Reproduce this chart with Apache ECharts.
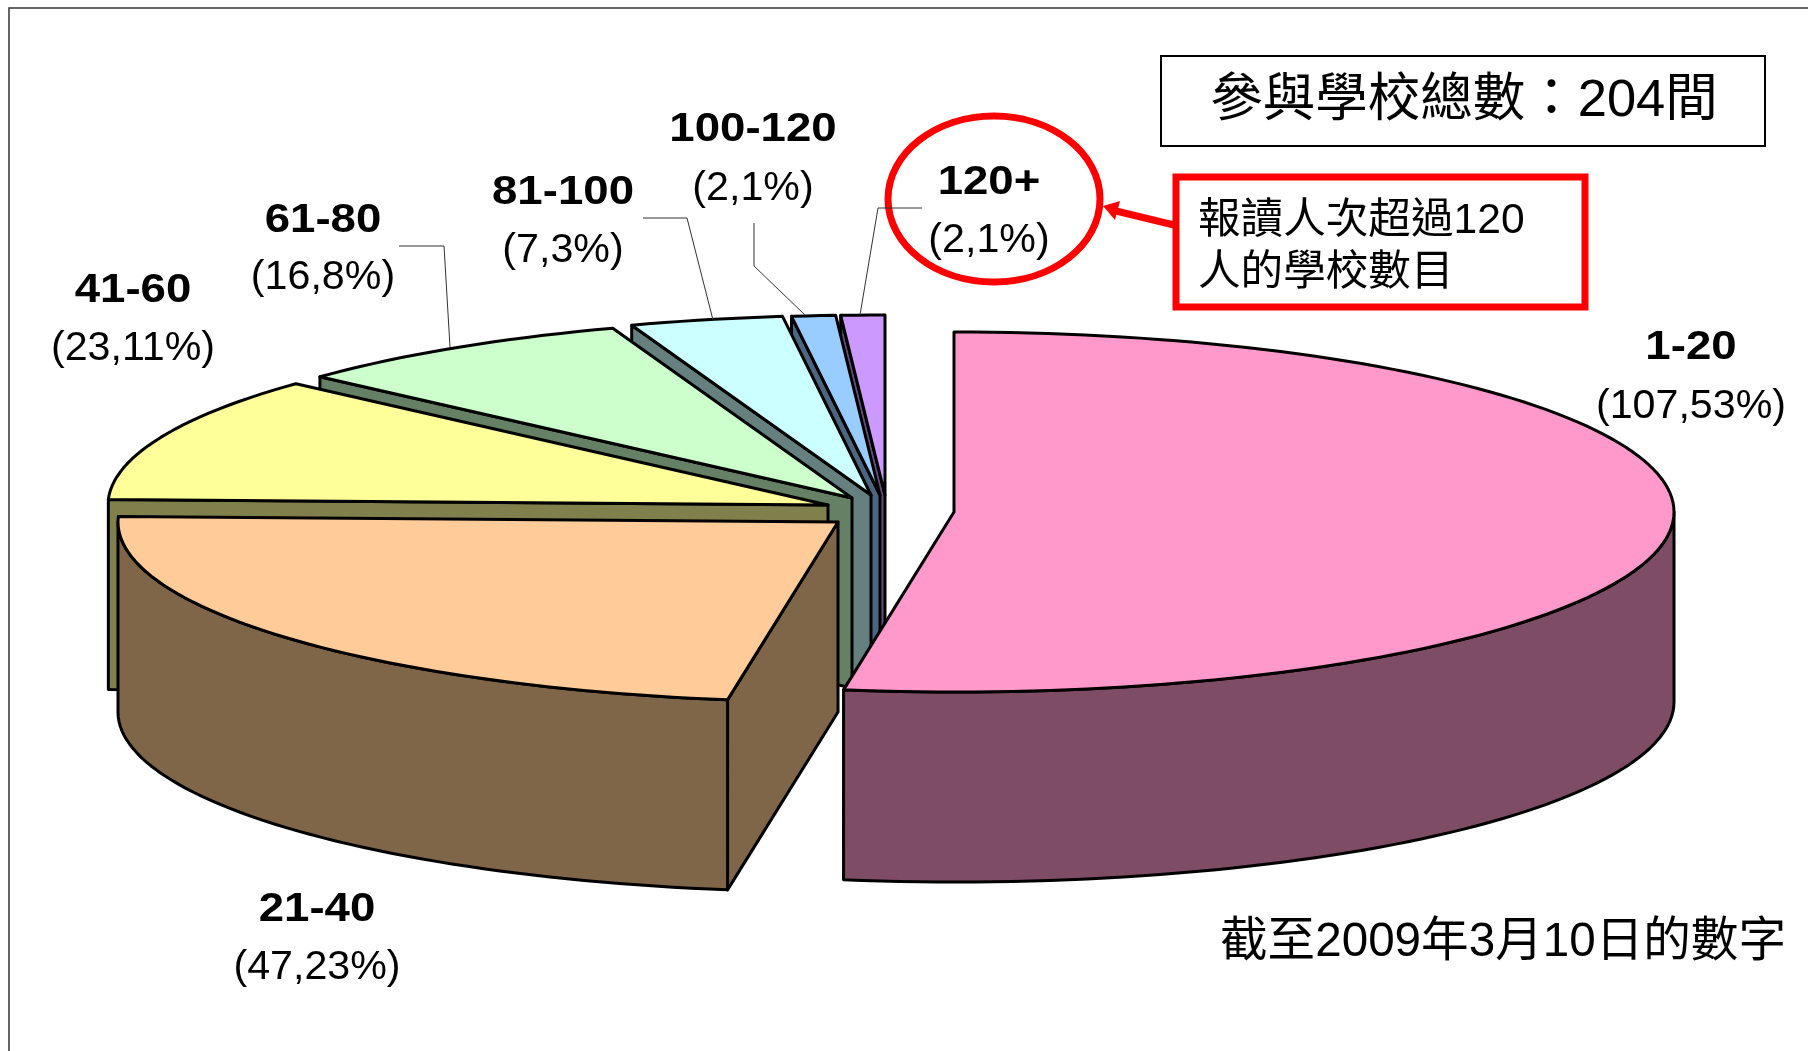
<!DOCTYPE html>
<html>
<head>
<meta charset="utf-8">
<style>
html,body{margin:0;padding:0;background:#fff;}
#chart{width:1808px;height:1051px;}
</style>
<script src="https://cdn.jsdelivr.net/npm/echarts@6/dist/echarts.min.js"></script>
</head>
<body>
<div id="chart"></div>
<script>
// data
var categories = ['1-20','21-40','41-60','61-80','81-100','100-120','120+'];
var schools = [107,47,23,16,7,2,2];
var percents = [53,23,11,8,3,1,1];

var topColors = ['#FF99CC','#FFCC99','#FFFF99','#CCFFCC','#CCFFFF','#99CCFF','#CC99FF'];
var wallColors = ['#7F4C66','#7F6649','#80804C','#668066','#668080','#4C6680','#664C80'];

// the pie: each slice is pulled out to its own apex
var rx = 720, ry = 180, depth = 190;
var apexes = [[954,512],[838,522],[828,505],[852,498],[871,495],[880,495],[885,495]];
var labelPos = [[1691,348,407],[317,910,968],[133,291,349],[323,221,278],[563,193,251],[753,130,189],[989,183,241]];

var total = schools.reduce(function(a,b){return a+b},0);

function rimPoint(apex,deg){
    var r = deg*Math.PI/180;
    return [apex[0]+rx*Math.sin(r), apex[1]-ry*Math.cos(r)];
}
function arc(apex,from,to){
    var pts = [], n = Math.max(2,Math.ceil((to-from)/1.5));
    for(var k=0;k<=n;k++){
        pts.push(rimPoint(apex,from+(to-from)*k/n));
    }
    return pts;
}
function drop(pts){
    return pts.map(function(p){return [p[0],p[1]+depth]}).reverse();
}
function poly(points,fill){
    return {type:'polygon',shape:{points:points},
        style:{fill:fill,stroke:'#000',lineWidth:3,lineJoin:'round'}};
}
function sideFace(apex,deg,fill){
    var top = [rimPoint(apex,deg),apex];
    return poly(top.concat(drop(top)),fill);
}

function renderSlice(params,api){
    var i = api.value(0);
    var before = 0;
    for(var k=0;k<i;k++) before += schools[k];
    var from = before/total*360;
    var to = (before+api.value(1))/total*360;
    var apex = apexes[i];
    var children = [];
    // cut faces turned to the viewer
    if(Math.sin(from*Math.PI/180)<-0.001) children.push(sideFace(apex,from,wallColors[i]));
    if(Math.sin(to*Math.PI/180)>0.001) children.push(sideFace(apex,to,wallColors[i]));
    // outer wall, only the front half of the rim
    var a = Math.max(from,90), b = Math.min(to,270);
    if(b>a){
        var rim = arc(apex,a,b);
        children.push(poly(rim.concat(drop(rim)),wallColors[i]));
    }
    children.push(poly([apex].concat(arc(apex,from,to)),topColors[i]));
    return {type:'group',children:children};
}

var sansFont = '"Liberation Sans","Noto Sans CJK TC",sans-serif';

function label(x,y,text,size,opt){
    opt = opt || {};
    return {type:'text',x:x,y:y,scaleX:opt.scaleX||1,z:20,
        style:{text:text,fill:'#000',textAlign:opt.align||'center',textVerticalAlign:'middle',
            font:(opt.bold?'bold ':'')+size+'px '+sansFont}};
}
function leader(points){
    return {type:'polyline',z:20,shape:{points:points},style:{fill:null,stroke:'#333',lineWidth:1}};
}

var graphics = [
    // frame of the slide
    {type:'polyline',shape:{points:[[9,1051],[9,8],[1808,8]]},style:{fill:null,stroke:'#333',lineWidth:1.5}},
    leader([[399,246],[444,246],[450,347]]),
    leader([[643,218],[687,218],[713,320]]),
    leader([[754,223],[754,266],[805,315]]),
    leader([[922,208],[878,208],[860,315]]),
    // total box
    {type:'rect',shape:{x:1161,y:56,width:604,height:90},style:{fill:'#fff',stroke:'#000',lineWidth:2}},
    label(1464,102,'參與學校總數：204間',52.5),
    // red note
    {type:'rect',shape:{x:1176,y:177,width:409,height:130},style:{fill:'#fff',stroke:'#FF0000',lineWidth:7}},
    label(1198,221,'報讀人次超過120',42.6,{align:'left'}),
    label(1198,273,'人的學校數目',42.6,{align:'left'}),
    {type:'ellipse',shape:{cx:994,cy:199,rx:106,ry:83},style:{fill:null,stroke:'#FF0000',lineWidth:7}},
    {type:'line',shape:{x1:1174,y1:225,x2:1116,y2:211},style:{stroke:'#FF0000',lineWidth:7}},
    {type:'polygon',shape:{points:[[1103,206],[1120,201],[1115,220]]},style:{fill:'#FF0000'}},
    label(1220,943,'截至2009年3月10日的數字',47.6,{align:'left'})
];
categories.forEach(function(name,i){
    var p = labelPos[i];
    graphics.push(label(p[0],p[1],name,40,{bold:true,scaleX:1.14}));
    graphics.push(label(p[0],p[2],'('+schools[i]+','+percents[i]+'%)',40,{scaleX:1.03}));
});

// painted from the back slice to the front one
var sliceData = schools.map(function(v,i){return [i,v]}).reverse();

var e = echarts.init(document.getElementById('chart'));
e.setOption({
    animation:false,
    backgroundColor:'#fff',
    graphic:{elements:graphics},
    series:[{
        type:'custom',
        coordinateSystem:'none',
        silent:true,
        data:sliceData,
        renderItem:renderSlice
    }]
});
</script>
</body>
</html>
